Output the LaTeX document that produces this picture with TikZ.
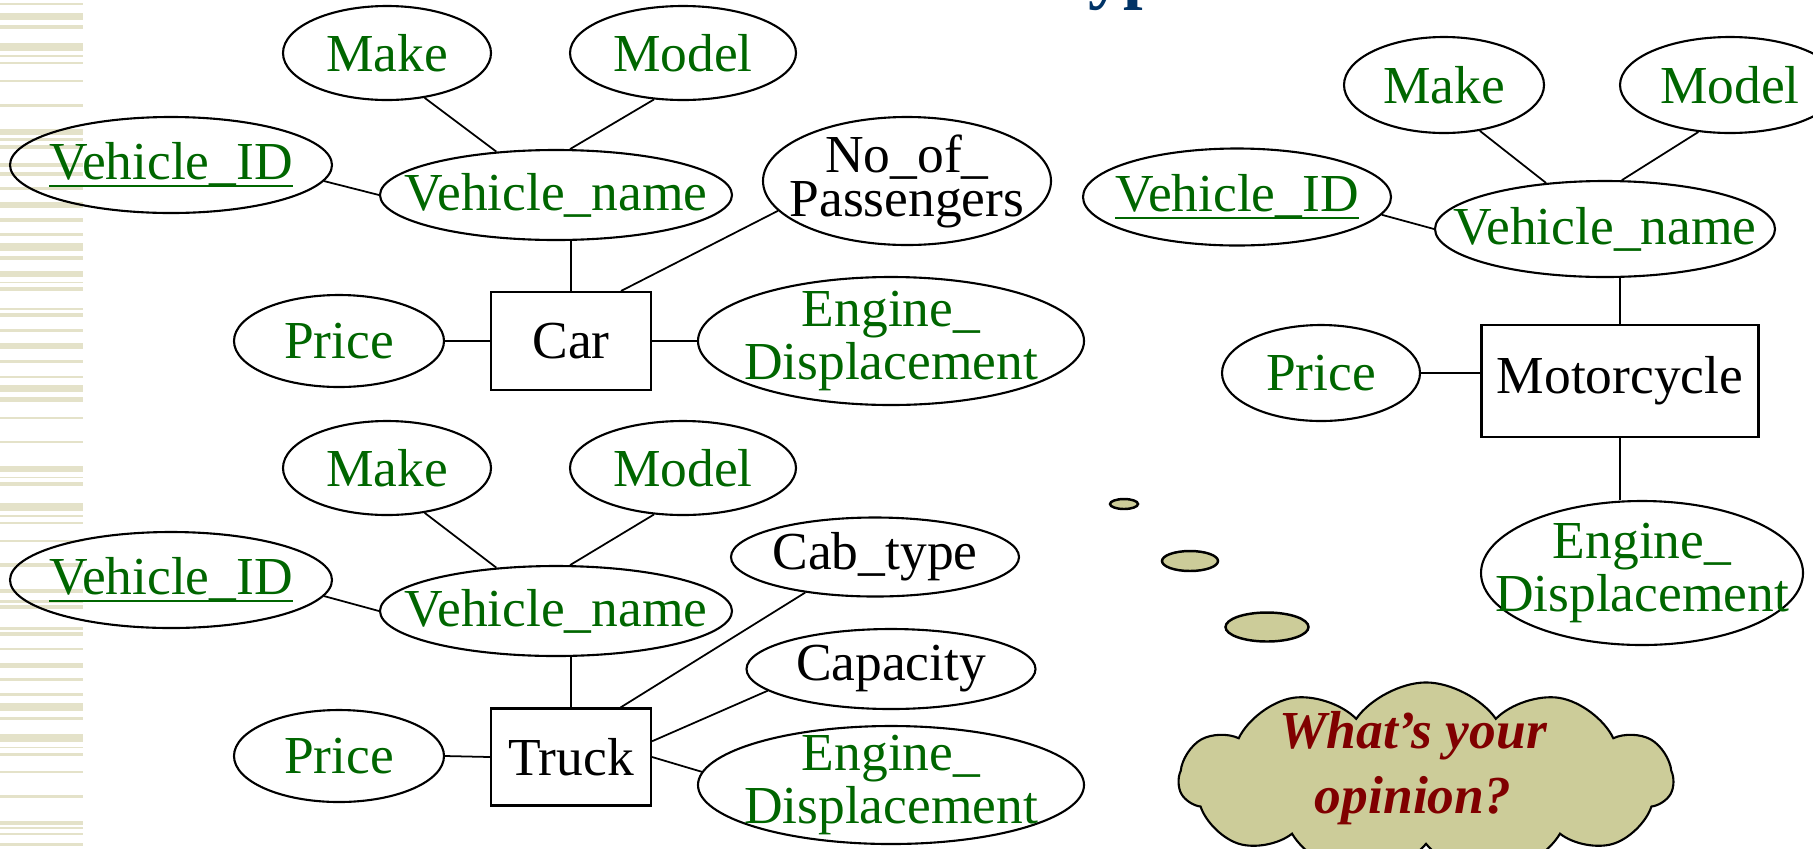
\documentclass[tikz,border=0pt]{standalone}
\usepackage{fontspec}
\setmainfont{Liberation Serif}
\usetikzlibrary{shapes.geometric,shapes.symbols}

\definecolor{attrgreen}{RGB}{0,102,0}
\definecolor{titleblue}{RGB}{0,51,102}
\definecolor{stripebeige}{RGB}{228,226,201}
\definecolor{thought}{RGB}{204,204,153}
\definecolor{maroontext}{RGB}{128,0,0}

% key attribute: text with a rule under it
\newcommand\keyattr[1]{\setbox0\hbox{#1}\rlap{\rule[-2.1pt]{\wd0}{0.6pt}}\box0}

\tikzset{
  every node/.style={font=\fontsize{15.2pt}{12.5pt}\selectfont},
  attr/.style={ellipse, draw, line width=0.6pt, inner sep=0pt},
  entity/.style={rectangle, draw, line width=0.6pt, inner sep=0pt},
  link/.style={line width=0.5pt},
  gtext/.style={text=attrgreen, align=center, inner sep=0pt},
  btext/.style={text=black, align=center, inner sep=0pt},
  bubble/.style={ellipse, draw, fill=thought, line width=0.7pt, inner sep=0pt},
}

% attribute ellipse of fixed size with its text on top
% #1 name, #2 centre, #3 width, #4 height, #5 text style, #6 text
\newcommand\attrnode[6]{%
  \node[attr, minimum width=#3*0.01cm, minimum height=#4*0.01cm] (#1) at (#2) {};
  \node[#5] (#1-t) at (#1.center) {#6};}

\begin{document}
\begin{tikzpicture}[x=0.01cm, y=-0.01cm]
\useasboundingbox (0,0) rectangle (1813,848);

% striped margin
\foreach \a/\b in {3/5, 13/20, 25/29, 43/51, 55/57, 62/64, 80/82, 104/107,
  129/135, 138/141, 145/149, 163/167, 172/176, 187/190, 202/208, 218/222,
  233/236, 243/251, 256/260, 271/277, 282/283, 287/291, 308/310, 313/317,
  329/332, 343/349, 360/363, 376/378, 385/392, 397/402, 417/419,
  441/443, 466/472, 477/478, 482/486, 503/511, 515/517, 522/524, 540/542,
  563/567, 589/593, 600/603, 605/609, 627/630, 632/636, 648/650, 663/668,
  678/681, 693/696, 703/711, 717/720, 734/742, 747/748, 753/756, 771/773,
  795/798, 821/825, 827/829, 833/835, 843/846}
  \fill[stripebeige] (0,\a) rectangle (83,\b);

% heading letters above the page
\node[anchor=base west, inner sep=0pt, text=titleblue,
      font=\fontsize{20pt}{24pt}\selectfont\bfseries] (title-t) at (1088,-5) {yp};

% ---------------- Car ----------------
\node[entity, minimum width=160*0.01cm, minimum height=98*0.01cm] (car) at (571,341) {Car};
\attrnode{cMake}{387,53}{208}{94}{gtext}{Make}
\attrnode{cModel}{683,53}{226}{94}{gtext}{Model}
\attrnode{cVid}{171,165}{322}{96}{gtext}{\keyattr{Vehicle\_ID}}
\attrnode{cVn}{556,195}{352}{90}{gtext}{Vehicle\_name}
\attrnode{cNop}{907,181}{288}{128}{btext}{No\_of\_\\Passengers}
\attrnode{cPrice}{339,341}{210}{92}{gtext}{Price}
\attrnode{cEng}{891,341}{386}{128}{gtext}{Engine\_\\Displacement}

\draw[link] (cMake.-50) -- (cVn.144);
\draw[link] (cModel.238) -- (cVn.73);
\draw[link] (cVid.-6) -- (cVn.180);
\draw[link] (car.north) -- (car.north |- cVn.south);
\draw[link] (cNop.193) -- (car.45);
\draw[link] (cPrice.east) -- (car.west);
\draw[link] (car.east) -- (cEng.west);

% ---------------- Truck ----------------
\node[entity, minimum width=160*0.01cm, minimum height=97*0.01cm] (truck) at (571,757) {Truck};
\attrnode{tMake}{387,468}{208}{94}{gtext}{Make}
\attrnode{tModel}{683,468}{226}{94}{gtext}{Model}
\attrnode{tVid}{171,580}{322}{96}{gtext}{\keyattr{Vehicle\_ID}}
\attrnode{tVn}{556,611}{352}{90}{gtext}{Vehicle\_name}
\attrnode{tCab}{875,557}{288}{79}{btext}{Cab\_type}
\attrnode{tCap}{891,669}{289}{80}{btext}{Capacity}
\attrnode{tPrice}{339,756}{210}{92}{gtext}{Price}
\attrnode{tEng}{891,785}{386}{118}{gtext}{Engine\_\\Displacement}

\draw[link] (tMake.-50) -- (tVn.144);
\draw[link] (tModel.238) -- (tVn.73);
\draw[link] (tVid.-6) -- (tVn.180);
\draw[link] (truck.north) -- (truck.north |- tVn.south);
\draw[link] (tCab.207) -- (truck.45);
\draw[link] (tCap.190) -- (truck.11);
\draw[link] (truck.east) -- (tEng.176);
\draw[link] (tPrice.east) -- (truck.west);

% ---------------- Motorcycle ----------------
\node[entity, minimum width=277*0.01cm, minimum height=112*0.01cm] (moto) at (1620,381) {Motorcycle};
\attrnode{mMake}{1444,85}{200}{96}{gtext}{Make}
\attrnode{mModel}{1730,85}{220}{96}{gtext}{Model}
\attrnode{mVid}{1237,197}{308}{97}{gtext}{\keyattr{Vehicle\_ID}}
\attrnode{mVn}{1605,229}{340}{96}{gtext}{Vehicle\_name}
\attrnode{mPrice}{1321,373}{198}{96}{gtext}{Price}
\attrnode{mEng}{1642,573}{322}{144}{gtext}{Engine\_\\Displacement}

\draw[link] (mMake.-52) -- (mVn.142);
\draw[link] (mModel.236) -- (mVn.71);
\draw[link] (mVid.-7) -- (mVn.180);
\draw[link] (moto.north) -- (moto.north |- mVn.south);
\draw[link] (mPrice.east) -- (mPrice.east -| moto.west);
\draw[link] (moto.south) -- (moto.south |- mEng.north);

% ---------------- thought bubble ----------------
\node[bubble, minimum width=28*0.01cm, minimum height=10*0.01cm] (b1) at (1124,504) {};
\node[bubble, minimum width=56*0.01cm, minimum height=20*0.01cm] (b2) at (1190,561) {};
\node[bubble, minimum width=83*0.01cm, minimum height=29*0.01cm] (b3) at (1267,627) {};
\node[cloud, draw, fill=thought, line width=0.6pt, cloud puffs=11, cloud puff arc=110,
      cloud ignores aspect, minimum width=4.94cm, minimum height=1.95cm] (cloud) at (1426,780) {};
\node[text=maroontext, align=center, inner sep=0pt,
      font=\fontsize{15.2pt}{18.5pt}\selectfont\bfseries\itshape] (cloud-t) at (1413,768)
      {What’s your\\opinion?};
\end{tikzpicture}
\end{document}
